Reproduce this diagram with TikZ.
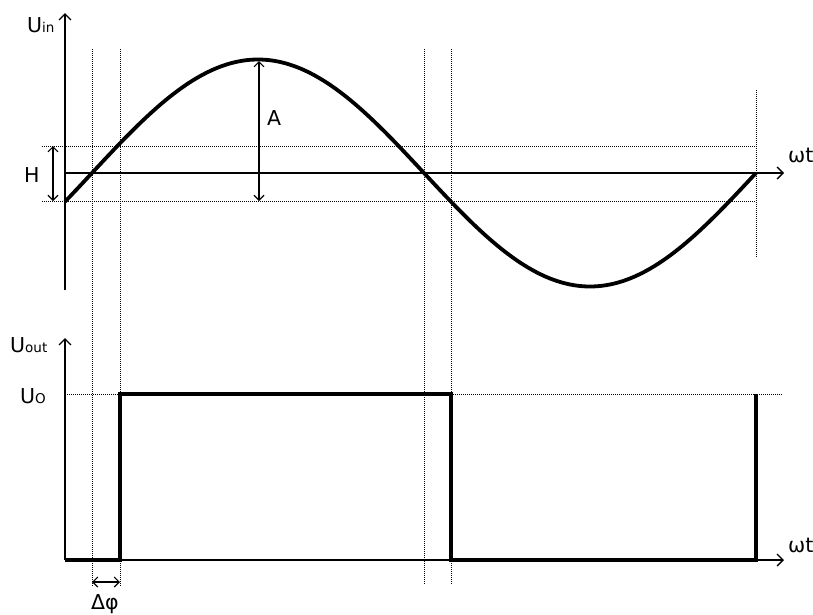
\documentclass[tikz,border=0pt]{standalone}
\usepackage{fontspec}
\setmainfont{DejaVu Sans}
\usetikzlibrary{arrows.meta}
\newcommand{\smalltxt}[1]{{\fontsize{13.5}{15}\selectfont #1}}
\begin{document}
\begin{tikzpicture}[x=1pt,y=-1pt,
  axisline/.style={line width=1.3pt,-{Straight Barb[length=6pt,width=12pt]}},
  dimline/.style={line width=1.1pt,{Straight Barb[length=5pt,width=10pt]}-{Straight Barb[length=5pt,width=10pt]}},
  guide/.style={line width=1pt,dash pattern=on 1pt off 1pt,black},
  wave/.style={line width=3.8pt,line join=miter},
  lbl/.style={font=\fontsize{20.5}{24}\selectfont,inner sep=0pt,anchor=base west},
  ]
\useasboundingbox (0,0) rectangle (813,614);
\fill[white] (0,0) rectangle (813,614);
% ---- coordinates
\coordinate (v1a) at (92,49);  \coordinate (v1b) at (92,587);
\coordinate (v2a) at (120,49); \coordinate (v2b) at (120,587);
\coordinate (v3a) at (424,49); \coordinate (v3b) at (424,584);
\coordinate (v4a) at (451,49); \coordinate (v4b) at (451,584);
\coordinate (v5a) at (756,90); \coordinate (v5b) at (756,257);
\coordinate (hua) at (42,146); \coordinate (hub) at (756,146);
\coordinate (hla) at (42,201); \coordinate (hlb) at (756,201);
\coordinate (uoa) at (65,394); \coordinate (uob) at (783,394);
\coordinate (tyb) at (65,290); \coordinate (tyt) at (65,13);
\coordinate (txl) at (65,173); \coordinate (txr) at (784,173);
\coordinate (byb) at (65,560); \coordinate (byt) at (65,338);
\coordinate (bxr) at (784,560);
\coordinate (q1) at (120,560); \coordinate (q2) at (120,394);
\coordinate (q3) at (451,394); \coordinate (q4) at (451,560);
\coordinate (q5) at (756,560); \coordinate (q6) at (756,394);
\coordinate (ht) at (53,146); \coordinate (hb) at (53,201);
\coordinate (at) at (259,61); \coordinate (ab) at (259,201);
\coordinate (pl) at (92,582); \coordinate (pr) at (120,582);
% ---- dotted guides
\draw[guide] (v1a) -- (v1b);
\draw[guide] (v2a) -- (v2b);
\draw[guide] (v3a) -- (v3b);
\draw[guide] (v4a) -- (v4b);
\draw[guide] (v5a) -- (v5b);
\draw[guide] (hua) -- (hub);
\draw[guide] (hla) -- (hlb);
\draw[guide] (uoa) -- (uob);
% ---- axes
\draw[axisline] (tyb) -- (tyt);
\draw[axisline] (txl) -- (txr);
\draw[axisline] (byb) -- (byt);
\draw[axisline] (byb) -- (bxr);
% ---- input sine
\draw[wave] plot[domain=65:756,samples=240,smooth] (\x,{173-113.5*sin((\x-92)/664*360)});
% ---- output square wave
\draw[wave] (byb) -- (q1) -- (q2) -- (q3) -- (q4) -- (q5) -- (q6);
% ---- dimension arrows
\draw[dimline] (ht) -- (hb);
\draw[dimline] (at) -- (ab);
\draw[dimline] (pl) -- (pr);
% ---- labels
\node[lbl] (Lin) at (27,32) {U\smalltxt{in}};
\node[lbl] (LH) at (24,182) {H};
\node[lbl] (LA) at (267,125) {A};
\node[lbl] (Lwt1) at (788,162) {ωt};
\node[lbl] (Lout) at (10,352) {U\smalltxt{out}};
\node[lbl] (Luo) at (20,403) {U\smalltxt{O}};
\node[lbl] (Lwt2) at (788,552) {ωt};
\node[lbl] (Lphi) at (91,609) {Δφ};
\end{tikzpicture}
\end{document}
